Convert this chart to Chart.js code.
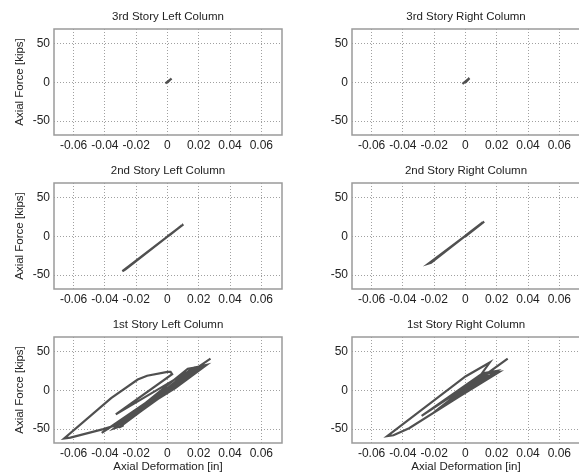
<!DOCTYPE html>
<html>
<head>
<meta charset="utf-8">
<script src="https://cdn.jsdelivr.net/npm/chart.js@4"></script>
<style>
  body { margin: 0; background: #fff; overflow: hidden; }
  #wrap { position: relative; width: 579px; height: 473px; overflow: hidden; }
  canvas { position: absolute; }
</style>
</head>
<body>
<div id="wrap"></div>
<script>
// tick positions shared by every panel
const xTicks = [-0.06, -0.04, -0.02, 0, 0.02, 0.04, 0.06];
const yTicks = [-50, 0, 50];

const panelTitles = [
  "3rd Story Left Column", "3rd Story Right Column",
  "2nd Story Left Column", "2nd Story Right Column",
  "1st Story Left Column", "1st Story Right Column"
];

// [deformation (in), force (kips)] pairs
const story3Left = [[0, 0], [0.0026, 5], [-0.0013, -1.3], [0.0024, 4.5], [0, 0.5]];
const story3Right = [[0, 0], [0.0026, 5.5], [-0.0019, -2], [0.0024, 5], [0, 0.5]];
const story2Left = [[0, 0], [0.0102, 15.4], [-0.0288, -45], [-0.027, -43], [0.009, 14], [0.001, 1]];
const story2Right = [[0, 0], [0.012, 19], [-0.0236, -35], [-0.022, -34], [0.011, 18], [0, 1]];
const story1Left = [
  [0, 0], [0.008, 12], [-0.007, -11], [0.014, 20], [-0.014, -22], [0.02, 29],
  [-0.022, -34], [0.024, 33], [-0.028, -42], [0.022, 31], [0.013, 28],
  [-0.034, -49], [-0.028, -45], [-0.031, -48], [0.022, 32], [-0.026, -40],
  [0.018, 30], [-0.033, -31], [0.003, 21], [0.002, 24], [0, 24], [-0.013, 19],
  [-0.019, 14], [-0.036, -10], [-0.066, -62], [-0.062, -61], [-0.041, -50],
  [-0.033, -45], [0.005, 3], [0.025, 33], [0.016, 29], [-0.03, -46],
  [0.02, 27], [-0.042, -55], [0.0275, 41]
];
const story1Right = [
  [0, 0], [0.007, 9], [-0.008, -12], [0.011, 15], [-0.012, -18], [0.015, 20],
  [-0.018, -25], [0.02, 25], [0.011, 22], [-0.028, -33], [0.008, 15],
  [0.0155, 36], [0, 18], [-0.05, -59], [-0.046, -58], [-0.036, -49],
  [-0.004, -8], [0.0217, 24], [0.012, 22], [-0.02, -28], [0.018, 22],
  [-0.012, -16], [0.027, 41]
];

const panelData = [story3Left, story3Right, story2Left, story2Right, story1Left, story1Right];

const FONT = "'Liberation Sans', Arial, sans-serif";
const rowTops = [0, 154, 308];

// full box round the plot area
const frame = {
  id: "frame",
  beforeDatasetsDraw(chart) {
    const a = chart.chartArea;
    const c = chart.ctx;
    c.save();
    c.strokeStyle = "#9a9a9a";
    c.lineWidth = 1.5;
    c.strokeRect(a.left, a.top, a.right - a.left, a.bottom - a.top);
    c.restore();
  }
};

function makePanel(i) {
  const col = i % 2;
  const row = Math.floor(i / 2);
  const isBottom = row === 2;
  const axisW = col === 0 ? 54 : 62;
  const xAxisH = isBottom ? 36 : 20;
  const w = col === 0 ? 290 : 300;
  const h = 29 + 106 + xAxisH;

  const cv = document.createElement("canvas");
  cv.style.left = (col === 0 ? 0 : 290) + "px";
  cv.style.top = rowTops[row] + "px";
  cv.style.width = w + "px";
  cv.style.height = h + "px";
  cv.width = w;
  cv.height = h;
  document.getElementById("wrap").appendChild(cv);

  new Chart(cv.getContext("2d"), {
    type: "scatter",
    data: {
      datasets: [{
        data: panelData[i].map(p => ({ x: p[0], y: p[1] })),
        showLine: true,
        borderColor: "#505050",
        borderWidth: 2.2,
        pointRadius: 0,
        tension: 0
      }]
    },
    options: {
      responsive: false,
      animation: false,
      layout: { padding: { left: 0, right: col === 0 ? 8 : 10, top: 0, bottom: 0 } },
      plugins: {
        legend: { display: false },
        tooltip: { enabled: false },
        title: {
          display: true,
          text: panelTitles[i],
          fullSize: false,
          color: "#222",
          font: { family: FONT, size: 11.5, weight: "normal" },
          padding: { top: 9.5, bottom: 5.7 }
        }
      },
      scales: {
        x: {
          type: "linear",
          min: -0.0725,
          max: 0.0732,
          afterBuildTicks: s => { s.ticks = xTicks.map(v => ({ value: v })); },
          afterFit: s => { s.height = xAxisH; },
          ticks: {
            color: "#222",
            padding: 3,
            maxRotation: 0,
            font: { family: FONT, size: 12 },
            callback: v => (v === 0 ? "0" : v.toFixed(2))
          },
          grid: { color: "#a0a0a0", lineWidth: 1, drawTicks: false },
          border: { display: false, dash: [1, 2] },
          title: {
            display: isBottom,
            text: "Axial Deformation [in]",
            color: "#222",
            font: { family: FONT, size: 11.5 },
            padding: { top: 0, bottom: 5 }
          }
        },
        y: {
          type: "linear",
          min: -68,
          max: 69,
          afterBuildTicks: s => { s.ticks = yTicks.map(v => ({ value: v })); },
          afterFit: s => { s.width = axisW; },
          ticks: {
            color: "#222",
            padding: 4,
            font: { family: FONT, size: 12 },
            callback: v => String(v)
          },
          grid: { color: "#a0a0a0", lineWidth: 1, drawTicks: false },
          border: { display: false, dash: [1, 2] },
          title: {
            display: col === 0,
            text: "Axial Force [kips]",
            color: "#222",
            font: { family: FONT, size: 11.5 },
            padding: { top: 13, bottom: 0 }
          }
        }
      }
    },
    plugins: [frame]
  });
}

for (let i = 0; i < 6; i++) makePanel(i);
</script>
</body>
</html>
